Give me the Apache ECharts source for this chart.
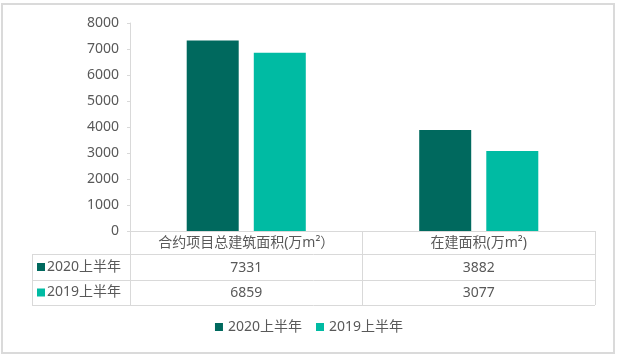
<!DOCTYPE html>
<html><head><meta charset="utf-8">
<script src="https://cdn.jsdelivr.net/npm/echarts@6/dist/echarts.min.js"></script>
<style>html,body{margin:0;padding:0;background:#fff}#c{width:618px;height:357px}</style>
</head><body><div id="c"></div>
<script>
const categories = ['合约项目总建筑面积(万m²）', '在建面积(万m²)'];
const seriesNames = ['2020上半年', '2019上半年'];
const values2020 = [7331, 3882];
const values2019 = [6859, 3077];
const yTicks = [0, 1000, 2000, 3000, 4000, 5000, 6000, 7000, 8000];

const colors = ['#00695E', '#00BBA3'];
const FONT = '"Noto Sans", "Noto Sans CJK SC", sans-serif';
const TXT = '#595959';
const LINE = '#D9D9D9';

const gl = 130, gr = 595, gt = 23, gb = 231;
const rowH = [23, 26, 25];
const tableLeft = 32;
const r1 = gb + rowH[0], r2 = r1 + rowH[1], r3 = r2 + rowH[2];

const chart = echarts.init(document.getElementById('c'), null, {renderer: 'canvas'});
const seriesData = [values2020, values2019];

const graphics = [
  {type: 'rect', shape: {x: 2, y: 4, width: 612, height: 349}, style: {fill: 'none', stroke: '#DADADA', lineWidth: 2}, silent: true},
  {type: 'line', shape: {x1: tableLeft, y1: r1 + 0.5, x2: gr, y2: r1 + 0.5}, style: {stroke: LINE, lineWidth: 1}},
  {type: 'line', shape: {x1: tableLeft, y1: r2 + 0.5, x2: gr, y2: r2 + 0.5}, style: {stroke: LINE, lineWidth: 1}},
  {type: 'line', shape: {x1: tableLeft, y1: r3 + 0.5, x2: gr, y2: r3 + 0.5}, style: {stroke: LINE, lineWidth: 1}},
  {type: 'line', shape: {x1: tableLeft + 0.5, y1: r1, x2: tableLeft + 0.5, y2: r3}, style: {stroke: LINE, lineWidth: 1}}
];
seriesNames.forEach((n, i) => {
  const yc = (i === 0 ? (r1 + r2) / 2 : (r2 + r3) / 2);
  graphics.push({type: 'rect', shape: {x: 37, y: yc - 4, width: 8, height: 8}, style: {fill: colors[i]}});
  graphics.push({type: 'text', x: 47, y: yc, style: {text: n, fill: TXT, font: '14px ' + FONT, textVerticalAlign: 'middle', verticalAlign: 'middle'}});
});

chart.setOption({
  animation: false,
  color: colors,
  textStyle: {fontFamily: FONT},
  grid: {left: gl, right: 618 - gr, top: gt, bottom: 357 - gb, containLabel: false},
  legend: {
    data: seriesNames, bottom: 18, left: 'center', icon: 'rect', itemWidth: 8, itemHeight: 8,
    itemGap: 14, textStyle: {color: TXT, fontSize: 14, fontFamily: FONT}
  },
  xAxis: {
    type: 'category', data: categories,
    axisLine: {lineStyle: {color: LINE}},
    axisTick: {show: true, length: rowH[0] + rowH[1] + rowH[2], interval: 0, lineStyle: {color: LINE}},
    axisLabel: {
      margin: 0, interval: 0,
      formatter: (v, idx) => `{h|${v}}\n{v|${values2020[idx]}}\n{v|${values2019[idx]}}`,
      rich: {
        h: {color: TXT, fontSize: 14, fontFamily: FONT, lineHeight: 24, height: 24},
        v: {color: TXT, fontSize: 14, fontFamily: FONT, lineHeight: 25.5, height: 25.5}
      }
    }
  },
  yAxis: {
    type: 'value', min: 0, max: yTicks[yTicks.length - 1], interval: 1000,
    axisLine: {show: true, lineStyle: {color: LINE}},
    axisTick: {show: true, length: 3, lineStyle: {color: LINE}},
    splitLine: {show: false},
    axisLabel: {color: TXT, fontSize: 14, fontFamily: FONT, margin: 11, formatter: v => String(v)}
  },
  series: seriesNames.map((n, i) => ({
    name: n, type: 'bar', data: seriesData[i], barWidth: 52, barGap: '29%'
  })),
  graphic: graphics
});
</script></body></html>
